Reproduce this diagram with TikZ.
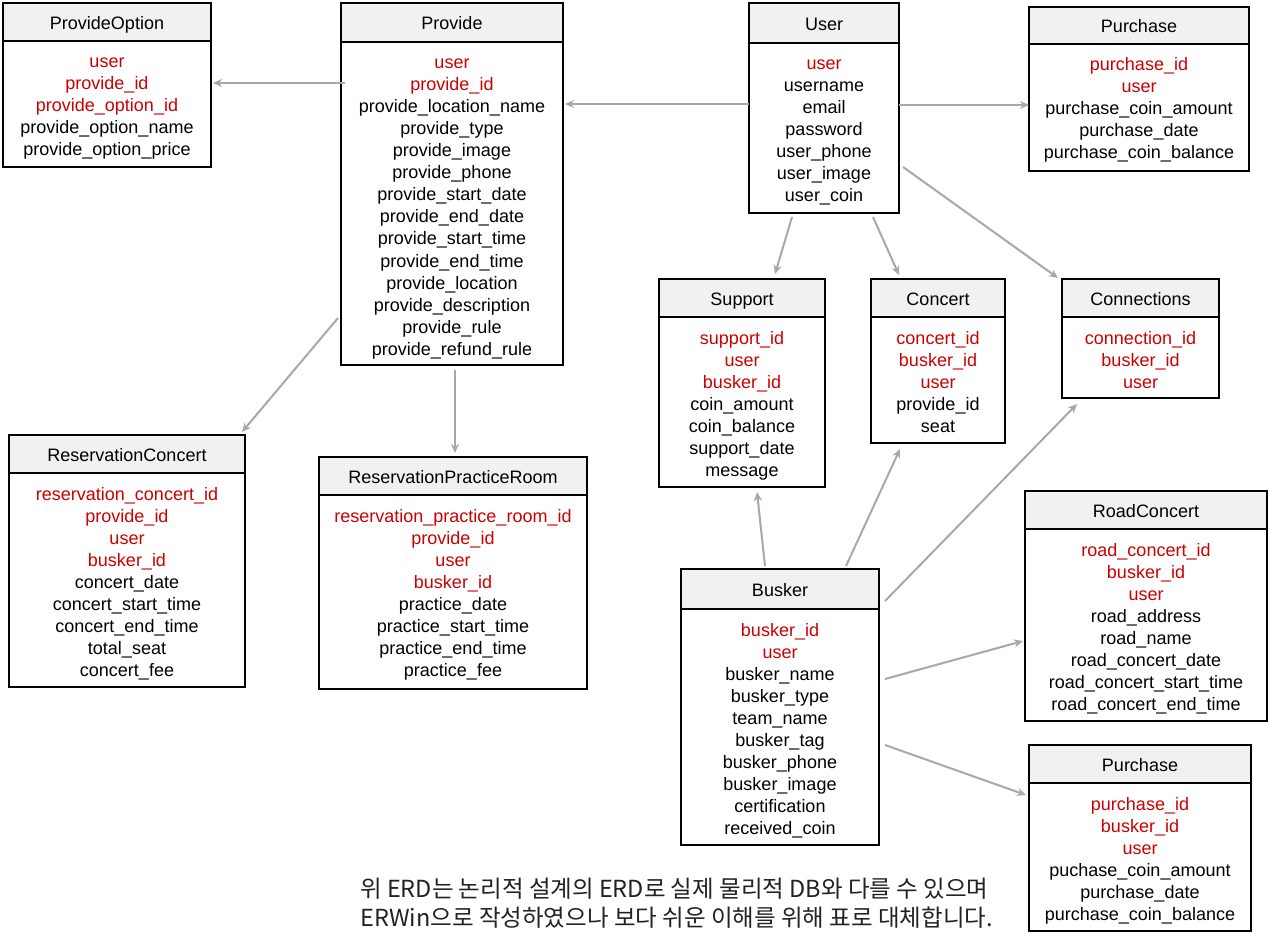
\documentclass[tikz,border=0pt]{standalone}
\usepackage{fontspec}
\setmainfont{Liberation Sans}
\newfontfamily\krfont{Noto Sans CJK KR}
\usetikzlibrary{arrows.meta,calc}
\definecolor{keyred}{HTML}{CC0000}
\definecolor{hdrgray}{HTML}{F1F1F1}
\definecolor{conngray}{HTML}{A8A8A8}
\definecolor{notegray}{HTML}{222222}
\tikzset{
  tbox/.style={draw=black,line width=2pt,inner sep=0pt,outer sep=0pt},
  txt/.style={font=\fontsize{18}{22}\selectfont,inner sep=0pt,anchor=base},
  conn/.style={draw=conngray,line width=2pt,-{Stealth[length=9pt,width=8pt]}},
  notetxt/.style={font=\krfont\fontsize{23.5}{29}\selectfont,text=notegray,inner sep=0pt,anchor=base west}
}
\newcommand\erdtab[9]{%
  \pgfmathsetmacro\erdcx{(#2+#4)/2}%
  \fill[hdrgray] (#2,#3) rectangle (#4,#6);
  \node[tbox,minimum width={#4-#2},minimum height={#5-#3}] (#1) at (\erdcx,{(#3+#5)/2}) {};
  \draw[line width=2pt] (#2,#6) -- (#4,#6);
  \node[txt] (#1-title) at (\erdcx,{(#3+#6)/2+7.5}) {#7};
  \foreach \r [count=\i] in {#9} {
    \ifnum\i>#8\relax\def\erdcol{black}\else\def\erdcol{keyred}\fi
    \node[txt,text=\erdcol] (#1-\i) at (\erdcx,{#6+27+22*(\i-1)}) {\r};
  }%
}
\begin{document}
\begin{tikzpicture}[x=1pt,y=-1pt]
\fill[white] (0,0) rectangle (1272,944);
\useasboundingbox (0,0) rectangle (1272,944);

\erdtab{po}{3}{3}{211}{167}{41}{ProvideOption}{3}{user,provide\_id,provide\_option\_id,provide\_option\_name,provide\_option\_price}
\erdtab{provide}{341}{3}{563}{365}{42}{Provide}{2}{user,provide\_id,provide\_location\_name,provide\_type,provide\_image,provide\_phone,provide\_start\_date,provide\_end\_date,provide\_start\_time,provide\_end\_time,provide\_location,provide\_description,provide\_rule,provide\_refund\_rule}
\erdtab{user}{749}{3}{899}{213}{43}{User}{1}{user,username,email,password,user\_phone,user\_image,user\_coin}
\erdtab{pura}{1029}{7}{1249}{171}{44}{Purchase}{2}{purchase\_id,user,purchase\_coin\_amount,purchase\_date,purchase\_coin\_balance}
\erdtab{support}{659}{279}{825}{487}{317}{Support}{3}{support\_id,user,busker\_id,coin\_amount,coin\_balance,support\_date,message}
\erdtab{concert}{871}{279}{1005}{443}{317}{Concert}{3}{concert\_id,busker\_id,user,provide\_id,seat}
\erdtab{conn}{1062}{279}{1219}{398}{317}{Connections}{3}{connection\_id,busker\_id,user}
\erdtab{rc}{9}{435}{245}{687}{473}{ReservationConcert}{4}{reservation\_concert\_id,provide\_id,user,busker\_id,concert\_date,concert\_start\_time,concert\_end\_time,total\_seat,concert\_fee}
\erdtab{rpr}{319}{457}{587}{689}{495}{ReservationPracticeRoom}{4}{reservation\_practice\_room\_id,provide\_id,user,busker\_id,practice\_date,practice\_start\_time,practice\_end\_time,practice\_fee}
\erdtab{busker}{681}{569}{879}{845}{609}{Busker}{2}{busker\_id,user,busker\_name,busker\_type,team\_name,busker\_tag,busker\_phone,busker\_image,certification,received\_coin}
\erdtab{road}{1025}{491}{1267}{721}{529}{RoadConcert}{3}{road\_concert\_id,busker\_id,user,road\_address,road\_name,road\_concert\_date,road\_concert\_start\_time,road\_concert\_end\_time}
\erdtab{purb}{1029}{745}{1251}{931}{783}{Purchase}{3}{purchase\_id,busker\_id,user,puchase\_coin\_amount,purchase\_date,purchase\_coin\_balance}

% connectors
\draw[conn] ($(provide.north west)+(4,80)$) -- ($(po.north east)+(2,80)$);
\draw[conn] ($(user.north west)+(0,101)$) -- ($(provide.north east)+(2,101)$);
\draw[conn] ($(user.north east)+(0,102)$) -- ($(pura.north west)+(0,98)$);
\draw[conn] ($(user.south west)+(43,4)$) -- ($(support.north west)+(116,-5)$);
\draw[conn] ($(user.south west)+(124,4)$) -- ($(concert.north west)+(28,-4)$);
\draw[conn] ($(user.north east)+(4,164)$) -- ($(conn.north west)+(-4,-1)$);
\draw[conn] ($(provide.north west)+(-3,315)$) -- ($(rc.north east)+(-3,-3)$);
\draw[conn] ($(provide.south west)+(114,5)$) -- ($(rpr.north west)+(136,-4)$);
\draw[conn] ($(busker.north west)+(84,-3)$) -- ($(support.south west)+(98,5)$);
\draw[conn] ($(busker.north west)+(165,-3)$) -- ($(concert.south west)+(29,6)$);
\draw[conn] ($(busker.north east)+(6,32)$) -- ($(conn.south west)+(15,6)$);
\draw[conn] ($(busker.north east)+(6,110)$) -- ($(road.north west)+(-2,150)$);
\draw[conn] ($(busker.north east)+(6,176)$) -- ($(purb.north west)+(-3,50)$);

% note
\node[notetxt] (note1) at (360,897) {위 ERD는 논리적 설계의 ERD로 실제 물리적 DB와 다를 수 있으며};
\node[notetxt] (note2) at (360,926) {ERWin으로 작성하였으나 보다 쉬운 이해를 위해 표로 대체합니다.};
\end{tikzpicture}
\end{document}
